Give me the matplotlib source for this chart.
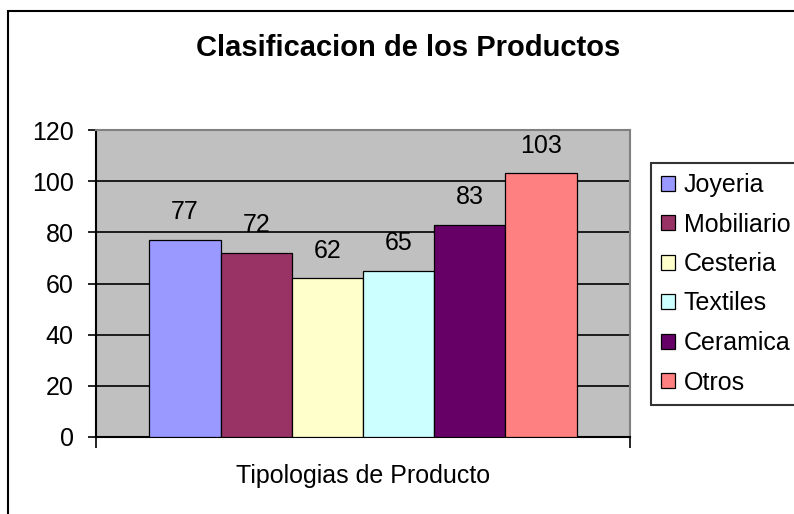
import matplotlib
matplotlib.use("Agg")
import matplotlib.pyplot as plt
from matplotlib.patches import Rectangle

series = ["Joyeria", "Mobiliario", "Cesteria", "Textiles", "Ceramica", "Otros"]
values = [77, 72, 62, 65, 83, 103]
colors = ["#9999FF", "#993366", "#FFFFCC", "#CCFFFF", "#660066", "#FF8080"]
category = "Tipologias de Producto"
title = "Clasificacion de los Productos"
yticks = [0, 20, 40, 60, 80, 100, 120]

plt.rcParams['font.family'] = ['Liberation Sans', 'DejaVu Sans']

W, H = 794, 514
fig = plt.figure(figsize=(W / 100, H / 100), dpi=100)
fig.patch.set_facecolor("white")

# outer chart frame
fig.patches.append(Rectangle((8 / W, -0.05), 1.1, (H - 11) / H + 0.05, transform=fig.transFigure,
                             fill=False, edgecolor="black", linewidth=1.5))

ax = fig.add_axes([96 / W, 1 - 437 / H, (630 - 96) / W, (437 - 130) / H])
ax.set_facecolor("#C0C0C0")
ax.set_axisbelow(True)

FS = 18
xs = list(range(len(series)))
for x, v, c, s in zip(xs, values, colors, series):
    ax.bar(x, v, width=1.0, color=c, edgecolor="black", linewidth=0.9, label=s, zorder=3)
    ax.annotate(str(v), (x, v), xytext=(0, 15), textcoords="offset points",
                ha="center", va="baseline", fontsize=FS, zorder=4)

ax.set_xlim(-1.25, len(series) - 1 + 1.25)
ax.set_ylim(0, 120)
ax.set_yticks(yticks)
ax.tick_params(axis="y", direction="out", length=6, width=1.2, pad=10, labelsize=FS)
ax.set_xticks([-1.25, len(series) - 1 + 1.25])
ax.set_xticklabels(["", ""])
ax.tick_params(axis="x", direction="out", length=8, width=1.2)
ax.yaxis.grid(True, color="black", linewidth=1.2, zorder=1)

for side in ["left", "bottom"]:
    ax.spines[side].set_color("black")
    ax.spines[side].set_linewidth(1.5)
for side in ["top", "right"]:
    ax.spines[side].set_color("#808080")
    ax.spines[side].set_linewidth(1.5)

ax.set_xlabel(category, fontsize=FS, labelpad=8)

fig.text(408 / W, 1 - 48 / H, title, ha="center", va="center", fontsize=21, fontweight="bold")

leg = ax.legend(loc="upper left", bbox_to_anchor=(651 / W, 1 - 163 / H),
                bbox_transform=fig.transFigure, fontsize=FS, frameon=True, fancybox=False,
                handlelength=0.56, handleheight=0.56, handletextpad=0.35, labelspacing=0.62,
                borderpad=0.4, borderaxespad=0)
leg.get_frame().set_edgecolor("black")
leg.get_frame().set_linewidth(1.5)

fig.savefig("out.png", dpi=100)
